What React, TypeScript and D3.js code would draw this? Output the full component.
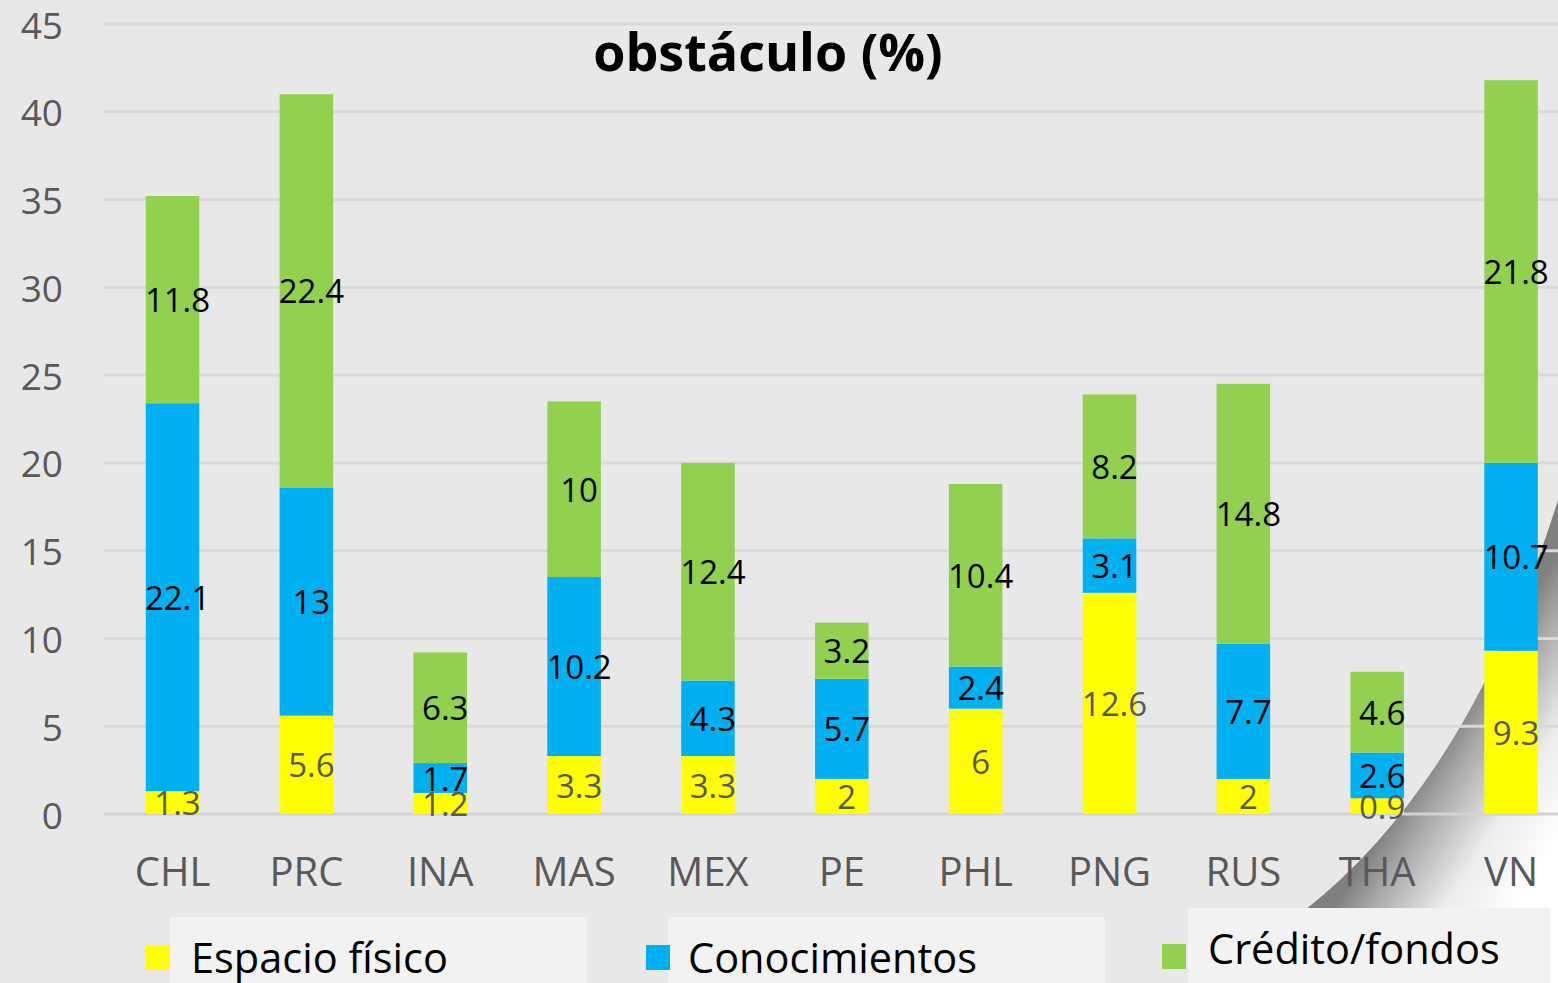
import React, { useEffect, useRef } from 'react'
import * as d3 from 'd3'

const countries = ['CHL', 'PRC', 'INA', 'MAS', 'MEX', 'PE', 'PHL', 'PNG', 'RUS', 'THA', 'VN']
const espacioFisico = [1.3, 5.6, 1.2, 3.3, 3.3, 2, 6, 12.6, 2, 0.9, 9.3]
const conocimientos = [22.1, 13, 1.7, 10.2, 4.3, 5.7, 2.4, 3.1, 7.7, 2.6, 10.7]
const creditoFondos = [11.8, 22.4, 6.3, 10, 12.4, 3.2, 10.4, 8.2, 14.8, 4.6, 21.8]
const seriesKeys = ['espacio', 'conocimientos', 'credito']
const seriesNames = ['Espacio físico', 'Conocimientos', 'Crédito/fondos']
const seriesColors = ['#FFFF00', '#00B0F0', '#92D050']
const labelColors = ['#595959', '#000000', '#000000']
const yTicks = [0, 5, 10, 15, 20, 25, 30, 35, 40, 45]

const W = 1558
const H = 983
const FONT = "'Open Sans', 'Liberation Sans', sans-serif"

export default function App() {
  const svgRef = useRef(null)

  useEffect(() => {
    const svg = d3.select(svgRef.current)
    svg.selectAll('*').remove()

    const table = countries.map((c, i) => ({
      country: c,
      espacio: espacioFisico[i],
      conocimientos: conocimientos[i],
      credito: creditoFondos[i],
    }))

    const x = d3
      .scaleBand()
      .domain(countries)
      .range([105.6, 1578])
      .paddingInner(0.6)
      .paddingOuter(0.3)

    const y = d3.scaleLinear().domain([0, 45]).range([814, 24])

    // background
    svg.append('rect').attr('width', W).attr('height', H).attr('fill', '#e8e8e8')

    // page curl in the corner
    const defs = svg.append('defs')
    const grad = defs
      .append('linearGradient')
      .attr('id', 'curl')
      .attr('gradientUnits', 'userSpaceOnUse')
      .attr('x1', 1440)
      .attr('y1', 740)
      .attr('x2', 1570)
      .attr('y2', 822)
    grad.append('stop').attr('offset', 0).attr('stop-color', '#808080')
    grad.append('stop').attr('offset', 0.2).attr('stop-color', '#a8a8a8')
    grad.append('stop').attr('offset', 0.6).attr('stop-color', '#ececec')
    grad.append('stop').attr('offset', 1).attr('stop-color', '#ffffff')
    svg
      .append('path')
      .attr('d', 'M1305,910 Q1470,780 1558,500 L1558,983 L1305,983 Z')
      .attr('fill', 'url(#curl)')

    // gridlines
    svg
      .append('g')
      .selectAll('line')
      .data(yTicks)
      .enter()
      .append('line')
      .attr('x1', 104)
      .attr('x2', W)
      .attr('y1', (d) => y(d))
      .attr('y2', (d) => y(d))
      .attr('stroke', (d) => (d === 0 ? '#d2d2d2' : '#d9d9d9'))
      .attr('stroke-width', 3)

    // y tick labels
    svg
      .append('g')
      .selectAll('text')
      .data(yTicks)
      .enter()
      .append('text')
      .attr('x', 63)
      .attr('y', (d) => y(d))
      .attr('text-anchor', 'end')
      .attr('dominant-baseline', 'central')
      .attr('font-family', FONT)
      .attr('font-size', 37)
      .attr('fill', '#595959')
      .text((d) => d)

    // stacked bars
    const stacked = d3.stack().keys(seriesKeys)(table)
    stacked.forEach((layer, li) => {
      const g = svg.append('g')
      g.selectAll('rect')
        .data(layer)
        .enter()
        .append('rect')
        .attr('x', (d) => x(d.data.country))
        .attr('width', x.bandwidth())
        .attr('y', (d) => y(d[1]))
        .attr('height', (d) => y(d[0]) - y(d[1]))
        .attr('fill', seriesColors[li])
    })

    // value labels
    stacked.forEach((layer, li) => {
      svg
        .append('g')
        .selectAll('text')
        .data(layer)
        .enter()
        .append('text')
        .attr('x', (d) => x(d.data.country) + x.bandwidth() / 2 + 5)
        .attr('y', (d) => y((d[0] + d[1]) / 2))
        .attr('text-anchor', 'middle')
        .attr('dominant-baseline', 'central')
        .attr('font-family', FONT)
        .attr('font-size', 33)
        .attr('fill', labelColors[li])
        .text((d) => d.data[seriesKeys[li]])
    })

    // x axis labels
    svg
      .append('g')
      .selectAll('text')
      .data(countries)
      .enter()
      .append('text')
      .attr('x', (d) => x(d) + x.bandwidth() / 2)
      .attr('y', 886)
      .attr('text-anchor', 'middle')
      .attr('font-family', FONT)
      .attr('font-size', 40)
      .attr('fill', '#595959')
      .text((d) => d)

    // title (second line, first line is cut off above)
    svg
      .append('text')
      .attr('x', 768)
      .attr('y', 71)
      .attr('text-anchor', 'middle')
      .attr('font-family', FONT)
      .attr('font-weight', 'bold')
      .attr('font-size', 52)
      .attr('fill', '#000')
      .text('obstáculo (%)')

    // legend
    const legendItems = [
      { box: [170, 917, 417, 66], sw: [146, 945], tx: [191, 973] },
      { box: [668, 917, 437, 66], sw: [646, 945], tx: [688, 973] },
      { box: [1188, 908, 362, 75], sw: [1162, 944], tx: [1208, 964] },
    ]
    legendItems.forEach((it, i) => {
      svg
        .append('rect')
        .attr('x', it.box[0])
        .attr('y', it.box[1])
        .attr('width', it.box[2])
        .attr('height', it.box[3])
        .attr('fill', '#f2f2f2')
      svg
        .append('rect')
        .attr('x', it.sw[0])
        .attr('y', it.sw[1])
        .attr('width', 24)
        .attr('height', 25)
        .attr('fill', seriesColors[i])
      svg
        .append('text')
        .attr('x', it.tx[0])
        .attr('y', it.tx[1])
        .attr('font-family', FONT)
        .attr('font-size', 41.5)
        .attr('fill', '#000')
        .text(seriesNames[i])
    })
  }, [])

  return (
    <svg
      ref={svgRef}
      width={W}
      height={H}
      style={{ position: 'absolute', left: 0, top: 0, display: 'block' }}
    ></svg>
  )
}
